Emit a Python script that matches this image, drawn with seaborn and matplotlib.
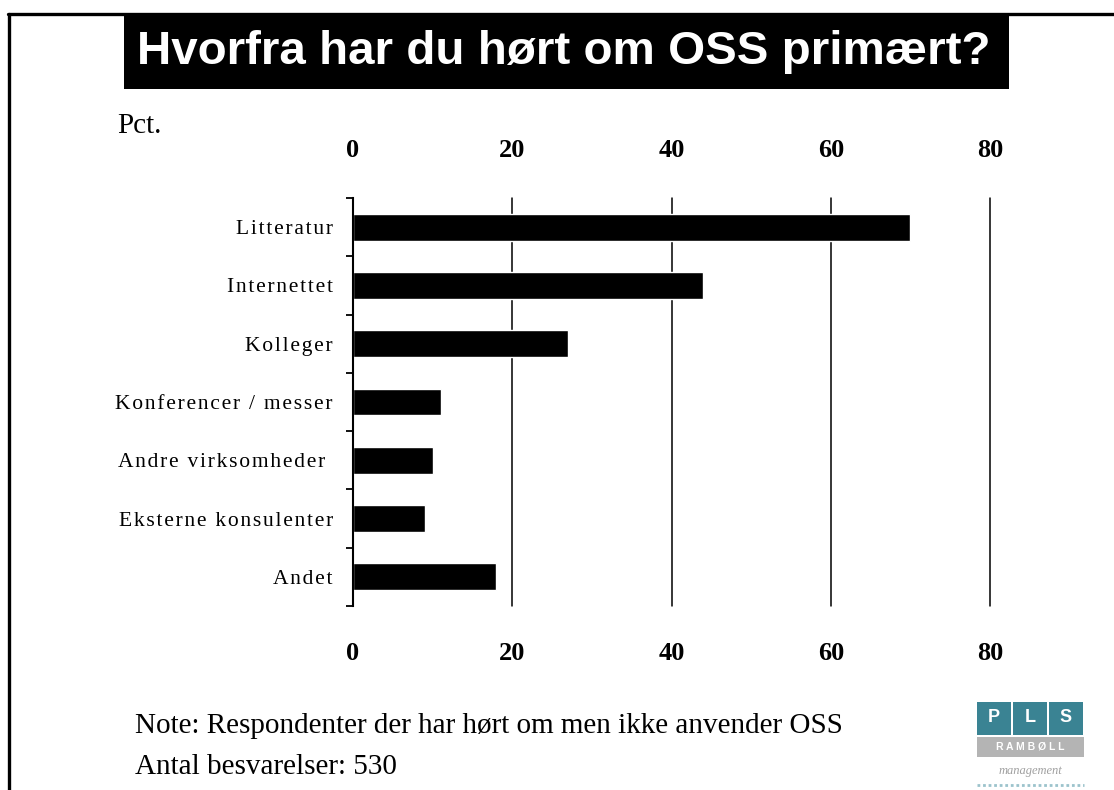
import numpy as np
import pandas as pd
import seaborn as sns
import matplotlib.pyplot as plt
from matplotlib.patches import Rectangle
from matplotlib.lines import Line2D

categories = ["Litteratur", "Internettet", "Kolleger", "Konferencer / messer",
              "Andre virksomheder ", "Eksterne konsulenter", "Andet"]
pct = [70, 44, 27, 11, 10, 9, 18]
xticks = [0, 20, 40, 60, 80]

df = pd.DataFrame({"kilde": categories, "pct": pct})

sns.set_style("white")
plt.rcParams["font.family"] = ["Liberation Serif", "DejaVu Serif"]
plt.rcParams["text.color"] = "black"
plt.rcParams["xtick.color"] = "black"
plt.rcParams["ytick.color"] = "black"
plt.rcParams["axes.labelcolor"] = "black"

W, H = 1114, 790
fig = plt.figure(figsize=(W / 100, H / 100), dpi=100)

def fx(px):
    return px / W

def fy(py):
    return 1 - py / H

def spaced(s):
    # loose letter spacing like the original
    return "\u200a".join(s)

# frame lines (top + left)
fig.add_artist(Line2D([fx(8), 1], [fy(14), fy(14)], color="black", lw=2.4))
fig.add_artist(Line2D([fx(9), fx(9)], [0, fy(14)], color="black", lw=2.4))

# title box
fig.add_artist(Rectangle((fx(124), fy(89)), fx(1009) - fx(124), fy(15) - fy(89),
                         facecolor="black", edgecolor="none"))
fig.text(fx(137), fy(52), "Hvorfra har du hørt om OSS primært?", color="white",
         fontsize=34.2, fontweight="bold", family=["Liberation Sans", "DejaVu Sans"],
         ha="left", va="center")

fig.text(fx(117), fy(126), "Pct.", fontsize=21, ha="left", va="center")

ax = fig.add_axes([fx(353), fy(606), fx(990) - fx(353), fy(198) - fy(606)])
sns.barplot(data=df, x="pct", y="kilde", orient="h", color="black",
            width=0.46, saturation=1, ax=ax)

ax.set_xlim(0, 80)
ax.set_ylim(6.5, -0.5)
ax.set_xticks(xticks)
ax.set_xticklabels([str(t) for t in xticks], fontsize=19, fontweight="bold")
ax.xaxis.grid(True, color="black", lw=1.1)
for gl in ax.get_xgridlines():
    gl.set_clip_on(False)
ax.set_axisbelow(True)
ax.tick_params(axis="x", length=0, labeltop=True, labelbottom=True, top=False, pad=26)

ax.set_yticks(range(len(categories)))
ax.set_yticklabels([spaced(c) for c in categories], fontsize=15.5)
ax.set_yticks(np.arange(-0.5, len(categories), 1), minor=True)
ax.tick_params(axis="y", which="major", length=0, pad=14.5)
ax.tick_params(axis="y", which="minor", length=5, width=1.3, direction="out",
               color="black", left=True)
ax.set_xlabel("")
ax.set_ylabel("")
for s in ["top", "right", "bottom"]:
    ax.spines[s].set_visible(False)
ax.spines["left"].set_color("black")
ax.spines["left"].set_linewidth(1.5)

fig.text(fx(135), fy(726), "Note: Respondenter der har hørt om men ikke anvender OSS",
         fontsize=21, ha="left", va="center")
fig.text(fx(135), fy(767), "Antal besvarelser: 530", fontsize=21, ha="left", va="center")

# logo PLS / RAMBØLL / management
teal = "#3a8393"
for i, ch in enumerate("PLS"):
    x0 = 977 + i * 36
    fig.add_artist(Rectangle((fx(x0), fy(735)), fx(34), fy(702) - fy(735),
                             facecolor=teal, edgecolor="none"))
    fig.text(fx(x0 + 17), fy(718), ch, color="white", fontsize=13, fontweight="bold",
             family=["Liberation Sans", "DejaVu Sans"], ha="center", va="center")
fig.add_artist(Rectangle((fx(977), fy(757)), fx(107), fy(737) - fy(757),
                         facecolor="#b4b4b4", edgecolor="none"))
fig.text(fx(1030), fy(747), "R A M B Ø L L", color="white", fontsize=7.5, fontweight="bold",
         family=["Liberation Sans", "DejaVu Sans"], ha="center", va="center")
fig.text(fx(1030), fy(771), "management", color="#a0a0a0", fontsize=9, style="italic",
         ha="center", va="center")
fig.add_artist(Line2D([fx(977), fx(1084)], [fy(785), fy(785)], color="#9cc3cc",
                      lw=2, ls=(0, (1, 1))))

fig.savefig("out.png", dpi=100)
